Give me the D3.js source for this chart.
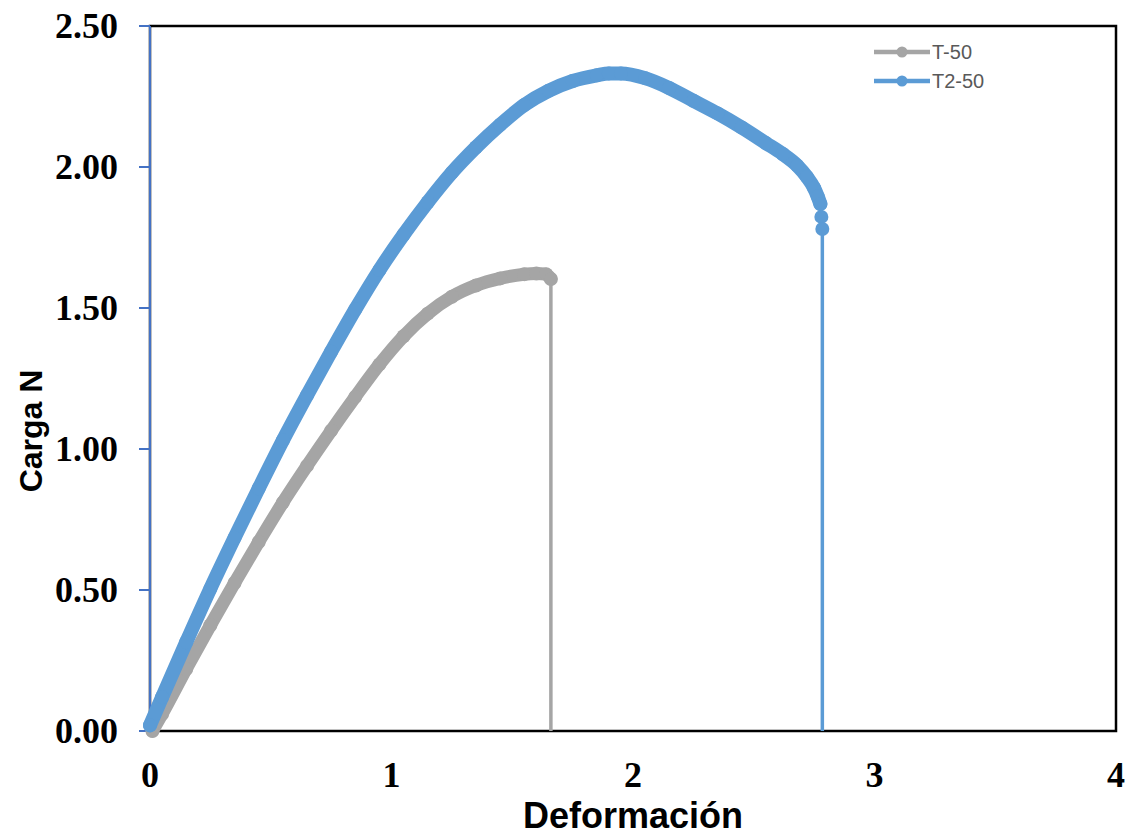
<html>

<head>
    <title>Carga vs Deformación</title>
    <style>
    body {
        margin: 0;
        padding: 0;
        background: white;
    }

    .tick-label {
        font-family: "Liberation Serif", "Times New Roman", serif;
        font-weight: bold;
        font-size: 36px;
        fill: black;
    }

    .axis-title {
        font-family: "Liberation Sans", Arial, sans-serif;
        font-weight: bold;
        fill: black;
    }

    .legend-text {
        font-family: "Liberation Sans", Arial, sans-serif;
        font-size: 20px;
        fill: #595959;
    }
    </style>
</head>

<body>
    <svg width="1130" height="835"></svg>
    <script src="https://cdnjs.cloudflare.com/ajax/libs/d3/7.8.5/d3.min.js"></script>
    <script>
    // valori
    var seriesNames = ["T-50", "T2-50"];

    var t50X = [0.01, 0.05, 0.15, 0.25, 0.35, 0.45, 0.55, 0.65, 0.75, 0.85, 0.95, 1.05, 1.15, 1.25, 1.35, 1.45, 1.55, 1.60, 1.64, 1.66, 1.66];
    var t50Y = [0.00, 0.06, 0.22, 0.375, 0.525, 0.67, 0.81, 0.94, 1.065, 1.185, 1.30, 1.40, 1.48, 1.54, 1.58, 1.605, 1.62, 1.622, 1.62, 1.603, 0.00];

    var t250X = [0.00, 0.05, 0.15, 0.25, 0.35, 0.45, 0.55, 0.65, 0.75, 0.85, 0.95, 1.05, 1.15, 1.25, 1.35, 1.45, 1.55, 1.65, 1.75, 1.85, 1.90, 1.95, 2.05, 2.15, 2.25, 2.35, 2.45, 2.55, 2.62, 2.68, 2.72, 2.75, 2.765, 2.776, 2.780, 2.784, 2.784];
    var t250Y = [0.02, 0.12, 0.315, 0.505, 0.685, 0.86, 1.03, 1.19, 1.345, 1.495, 1.635, 1.76, 1.875, 1.98, 2.07, 2.15, 2.22, 2.27, 2.305, 2.325, 2.332, 2.332, 2.315, 2.28, 2.235, 2.19, 2.14, 2.085, 2.046, 2.005, 1.965, 1.925, 1.895, 1.869, 1.823, 1.780, 0.00];

    var xTicks = [0, 1, 2, 3, 4];
    var yTicks = [0, 0.5, 1, 1.5, 2, 2.5];

    var colours = {
        "T-50": "#a5a5a5",
        "T2-50": "#5b9bd5"
    };

    var svg = d3.select("svg");

    // margini dell'area del grafico ("top" e' riservato in window)
    var plotLeft = 150, plotRight = 1116, plotTop = 26, plotBottom = 731;

    var x = d3.scaleLinear().domain([0, 4]).range([plotLeft, plotRight]);
    var y = d3.scaleLinear().domain([0, 2.5]).range([plotBottom, plotTop]);

    // riquadro dell'area del grafico
    svg.append("rect")
        .attr("x", plotLeft)
        .attr("y", plotTop)
        .attr("width", plotRight - plotLeft)
        .attr("height", plotBottom - plotTop)
        .attr("fill", "none")
        .attr("stroke", "black")
        .attr("stroke-width", 2.5);

    // asse y blu con tacche esterne
    svg.append("line")
        .attr("x1", plotLeft).attr("x2", plotLeft)
        .attr("y1", plotTop).attr("y2", plotBottom)
        .attr("stroke", "#4472c4")
        .attr("stroke-width", 2);

    svg.selectAll(".ytick")
        .data(yTicks)
        .enter()
        .append("line")
        .attr("class", "ytick")
        .attr("x1", plotLeft - 11).attr("x2", plotLeft)
        .attr("y1", function(d) { return y(d) })
        .attr("y2", function(d) { return y(d) })
        .attr("stroke", "#4472c4")
        .attr("stroke-width", 2);

    svg.selectAll(".ylabel")
        .data(yTicks)
        .enter()
        .append("text")
        .attr("class", "tick-label")
        .attr("text-anchor", "end")
        .attr("x", 118)
        .attr("y", function(d) { return y(d) })
        .attr("dy", "0.34em")
        .text(function(d) { return d3.format(".2f")(d) });

    svg.selectAll(".xlabel")
        .data(xTicks)
        .enter()
        .append("text")
        .attr("class", "tick-label")
        .attr("text-anchor", "middle")
        .attr("x", function(d) { return x(d) })
        .attr("y", plotBottom + 56)
        .text(function(d) { return d });

    // titoli degli assi
    svg.append("text")
        .attr("class", "axis-title")
        .attr("text-anchor", "middle")
        .style("font-size", "36px")
        .attr("x", 633)
        .attr("y", 828)
        .text("Deformación");

    svg.append("text")
        .attr("class", "axis-title")
        .attr("text-anchor", "middle")
        .style("font-size", "32px")
        .attr("transform", "translate(42,431) rotate(-90)")
        .text("Carga N");

    // "sparse" = quanti punti finali hanno marcatori ben distinti
    var series = [
        { name: "T-50", xs: t50X, ys: t50Y, band: 13, sparse: 1 },
        { name: "T2-50", xs: t250X, ys: t250Y, band: 14, sparse: 3 }
    ];

    var smooth = d3.line()
        .x(function(d) { return x(d[0]) })
        .y(function(d) { return y(d[1]) })
        .curve(d3.curveMonotoneX);

    var straight = d3.line()
        .x(function(d) { return x(d[0]) })
        .y(function(d) { return y(d[1]) });

    series.forEach(function(s) {
        var pts = s.xs.map(function(v, i) { return [v, s.ys[i]] });
        var marked = pts.slice(0, pts.length - 1);
        var dense = marked.slice(0, marked.length - s.sparse + 1);
        var tail = pts.slice(dense.length - 1);
        var g = svg.append("g");

        // ultimi punti e caduta finale: linea sottile
        g.append("path")
            .attr("d", straight(tail))
            .attr("fill", "none")
            .attr("stroke", colours[s.name])
            .attr("stroke-width", 3.5);

        // punti fitti: i marcatori formano una banda spessa
        g.append("path")
            .attr("d", smooth(dense))
            .attr("fill", "none")
            .attr("stroke", colours[s.name])
            .attr("stroke-width", s.band)
            .attr("stroke-linecap", "round")
            .attr("stroke-linejoin", "round");

        g.selectAll("circle")
            .data(marked)
            .enter()
            .append("circle")
            .attr("cx", function(d) { return x(d[0]) })
            .attr("cy", function(d) { return y(d[1]) })
            .attr("r", 7)
            .attr("fill", colours[s.name]);
    });

    // legenda
    var legend = svg.append("g")
        .selectAll("g")
        .data(seriesNames)
        .enter()
        .append("g")
        .attr("transform", function(d, i) { return "translate(874," + (52 + i * 29) + ")" });

    legend.append("line")
        .attr("x1", 0).attr("x2", 56)
        .attr("stroke", function(d) { return colours[d] })
        .attr("stroke-width", 4.5);

    legend.append("circle")
        .attr("cx", 28)
        .attr("r", 5.5)
        .attr("fill", function(d) { return colours[d] });

    legend.append("text")
        .attr("class", "legend-text")
        .attr("x", 58)
        .attr("dy", "0.36em")
        .text(function(d) { return d });
    </script>
</body>

</html>
